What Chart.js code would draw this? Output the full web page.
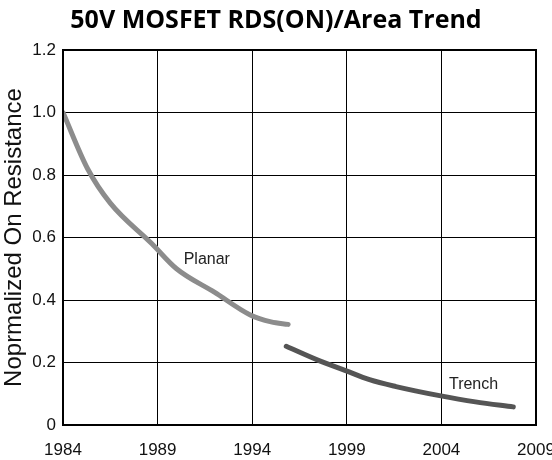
<!DOCTYPE html>
<html>
<head>
<meta charset="utf-8">
<script src="https://cdn.jsdelivr.net/npm/chart.js@4/dist/chart.umd.min.js"></script>
<style>
  html, body { margin: 0; padding: 0; background: #fff; }
  #wrap { width: 552px; height: 460px; }
</style>
</head>
<body>
<div id="wrap"><canvas id="trendChart"></canvas></div>
<script>
// values
var planarYears  = [1984, 1985.3, 1986.5, 1988.7, 1990, 1992, 1993.9, 1995, 1995.9];
var planarValues = [1.0, 0.82, 0.71, 0.58, 0.50, 0.425, 0.352, 0.33, 0.322];
var trenchYears  = [1995.8, 1997.5, 1998.9, 2000.2, 2001.6, 2003.9, 2005.8, 2007.8];
var trenchValues = [0.252, 0.207, 0.175, 0.145, 0.123, 0.094, 0.074, 0.058];
var seriesNames  = ['Planar', 'Trench'];

var tickFont = '"Liberation Sans", Arial, sans-serif';

function toPoints(xs, ys) {
    return xs.map(function (x, i) { return { x: x, y: ys[i] }; });
}

// draws the series names at data coordinates plus the frame round the plot
var annotate = {
    id: 'annotate',
    afterDatasetsDraw: function (chart) {
        var ctx = chart.ctx, a = chart.chartArea;
        var xs = chart.scales.x, ys = chart.scales.y;
        ctx.save();
        ctx.strokeStyle = '#000';
        ctx.lineWidth = 2;
        ctx.strokeRect(a.left, a.top, a.right - a.left, a.bottom - a.top);
        ctx.fillStyle = '#222';
        ctx.font = '16px ' + tickFont;
        ctx.textAlign = 'center';
        ctx.textBaseline = 'middle';
        ctx.fillText(seriesNames[0], xs.getPixelForValue(1991.6), ys.getPixelForValue(0.53));
        ctx.fillText(seriesNames[1], xs.getPixelForValue(2005.7), ys.getPixelForValue(0.13));
        ctx.restore();
    }
};

var ctx = document.getElementById('trendChart').getContext('2d');
var trendChart = new Chart(ctx, {
    type: 'line',
    data: {
        datasets: [
            {
                label: seriesNames[0],
                data: toPoints(planarYears, planarValues),
                borderColor: 'rgb(140, 140, 140)',
                borderWidth: 5,
                pointRadius: 0,
                cubicInterpolationMode: 'monotone',
                borderCapStyle: 'round'
            },
            {
                label: seriesNames[1],
                data: toPoints(trenchYears, trenchValues),
                borderColor: 'rgb(85, 85, 85)',
                borderWidth: 5,
                pointRadius: 0,
                cubicInterpolationMode: 'monotone',
                borderCapStyle: 'round'
            }
        ]
    },
    options: {
        responsive: true,
        maintainAspectRatio: false,
        animation: false,
        layout: { padding: { left: 0, right: 0, top: 6, bottom: 2 } },
        plugins: {
            legend: { display: false },
            tooltip: { enabled: false },
            title: {
                display: true,
                text: '50V MOSFET RDS(ON)/Area Trend',
                color: '#000',
                font: { family: '"Open Sans", sans-serif', size: 25, weight: 'bold' },
                padding: { top: 0, bottom: 14 }
            }
        },
        scales: {
            x: {
                type: 'linear',
                min: 1984,
                max: 2009,
                afterFit: function (scale) { scale.paddingRight = 16; scale.height = 33; },
                ticks: {
                    stepSize: 5,
                    color: '#111',
                    font: { family: tickFont, size: 17 },
                    padding: 15,
                    callback: function (v) { return String(v); }
                },
                grid: { color: '#000', lineWidth: 1, drawTicks: false },
                border: { color: '#000', width: 2 }
            },
            y: {
                min: 0,
                max: 1.2,
                afterFit: function (scale) { scale.width = 63; scale.paddingTop = 0; scale.paddingBottom = 0; },
                ticks: {
                    stepSize: 0.2,
                    color: '#111',
                    font: { family: tickFont, size: 17 },
                    padding: 7,
                    callback: function (v) { return v === 0 ? '0' : v.toFixed(1); }
                },
                grid: { color: '#000', lineWidth: 1, drawTicks: false },
                border: { color: '#000', width: 2 },
                title: {
                    display: true,
                    text: 'Noprmalized On Resistance',
                    color: '#111',
                    font: { family: '"Liberation Sans", Arial, sans-serif', size: 24 },
                    padding: { top: 0, bottom: 0 }
                }
            }
        }
    },
    plugins: [annotate]
});
</script>
</body>
</html>
